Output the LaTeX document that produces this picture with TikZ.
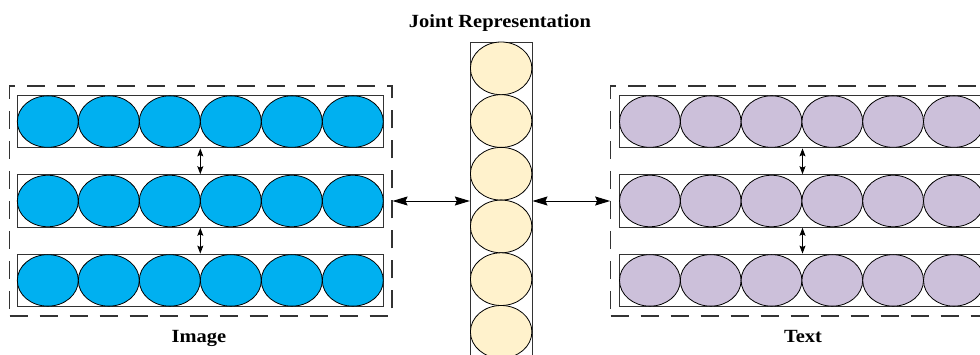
\documentclass[tikz,border=0pt]{standalone}
\usepackage{fontspec}
\setmainfont{Liberation Serif}
\usetikzlibrary{shapes.geometric,arrows.meta}
\definecolor{imgblue}{HTML}{00B0F0}
\definecolor{txtlilac}{HTML}{CCC0DA}
\definecolor{jointcream}{HTML}{FFF2CC}
\tikzset{
  unit/.style={ellipse, draw=black, line width=0.8pt, inner sep=0pt, minimum width=61pt, minimum height=51.5pt},
  imgunit/.style={unit, fill=imgblue},
  txtunit/.style={unit, fill=txtlilac, minimum width=60.8pt},
  jointunit/.style={unit, fill=jointcream, minimum width=61.5pt, minimum height=52.7pt},
  rowbox/.style={rectangle, draw=black!80, line width=0.9pt, inner sep=0pt, minimum width=366pt, minimum height=52.7pt},
  groupbox/.style={rectangle, draw=black!80, line width=1.1pt, dash pattern=on 18pt off 12pt, inner sep=0pt, minimum width=382.5pt, minimum height=230pt},
  colbox/.style={rectangle, draw=black!80, line width=0.9pt, inner sep=0pt, minimum width=61.7pt, minimum height=340pt},
  bigarr/.style={line width=0.9pt, {Stealth[length=15pt,width=9pt,inset=2pt]}-{Stealth[length=15pt,width=9pt,inset=2pt]}},
  smallarr/.style={line width=0.9pt, {Stealth[length=8pt,width=6pt,inset=1.5pt]}-{Stealth[length=8pt,width=6pt,inset=1.5pt]}},
  lbl/.style={font=\fontsize{18.6}{20}\selectfont\bfseries, anchor=base, inner sep=0pt}
}
\begin{document}
\begin{tikzpicture}[x=1pt,y=-1pt]
\useasboundingbox (0,0) rectangle (980,355);
\clip (0,0) rectangle (980,355);

% ---------- left (image) group ----------
\node[groupbox] (Ldash) at (200.75,201) {};
\node[rowbox] (L1) at (200.3,121.6) {};
\node[rowbox] (L2) at (200.3,201) {};
\node[rowbox] (L3) at (200.3,280.4) {};
\foreach \r/\y in {1/121.6,2/201,3/280.4}{
  \foreach \i in {0,...,5}{
    \node[imgunit] (L\r e\i) at ({47.8+61*\i},\y) {};
  }
}
\draw[smallarr] (L1.south) -- (L2.north);
\draw[smallarr] (L2.south) -- (L3.north);

% ---------- right (text) group ----------
\node[groupbox] (Rdash) at (610.7+191.25,201) {};
\node[rowbox] (R1) at (802.5,121.6) {};
\node[rowbox] (R2) at (802.5,201) {};
\node[rowbox] (R3) at (802.5,280.4) {};
\foreach \r/\y in {1/121.6,2/201,3/280.4}{
  \foreach \i in {0,...,5}{
    \node[txtunit] (R\r e\i) at ({649.9+60.8*\i},\y) {};
  }
}
\draw[smallarr] (R1.south) -- (R2.north);
\draw[smallarr] (R2.south) -- (R3.north);

% ---------- joint column ----------
\node[colbox] (J) at (501.15,212) {};
\foreach \i in {0,...,5}{
  \node[jointunit] (Je\i) at (501.15,{68.35+52.7*\i}) {};
}

% ---------- connectors ----------
\draw[bigarr] (Ldash.east) -- (Ldash.east -| J.west);
\draw[bigarr] (J.east |- Rdash.west) -- (Rdash.west);

% ---------- labels ----------
\node[lbl] (tJ) at (500,27.3) {\scalebox{1.1}[1]{Joint Representation}};
\node[lbl] (tI) at (199,342.3) {\scalebox{1.1}[1]{Image}};
\node[lbl] (tT) at (803,342.3) {\scalebox{1.1}[1]{Text}};
\end{tikzpicture}
\end{document}
